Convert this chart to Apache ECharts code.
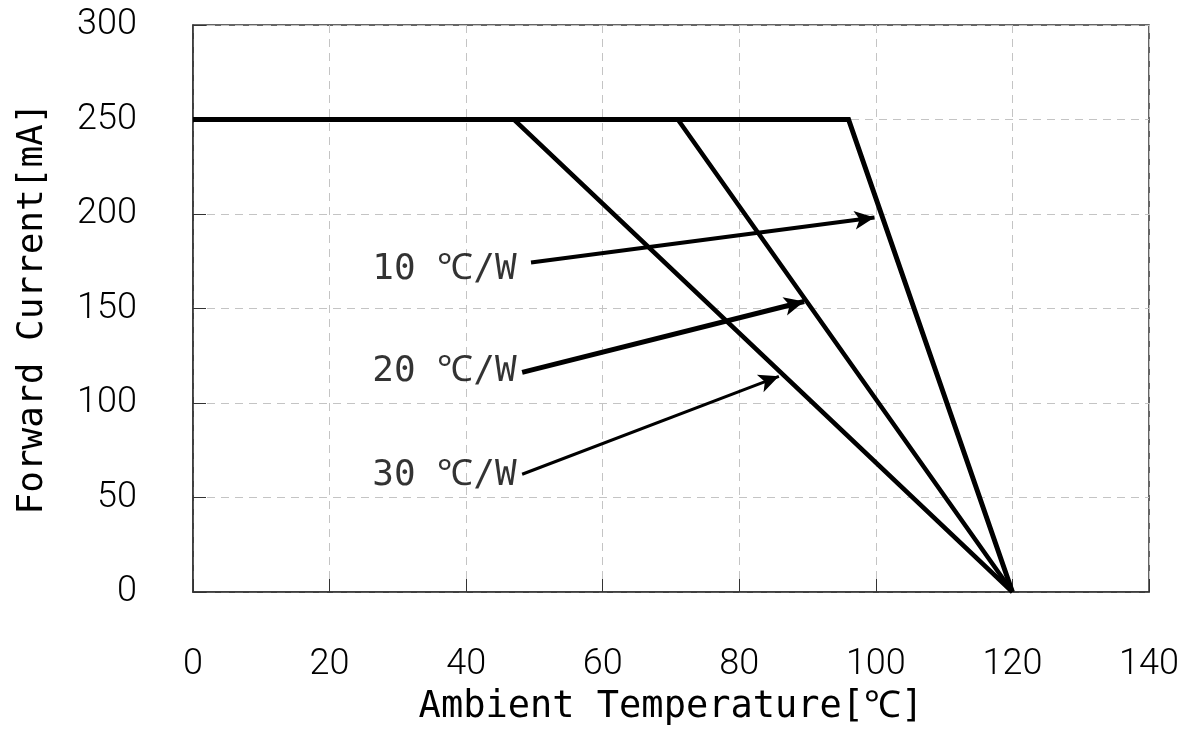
<!DOCTYPE html>
<html>
<head>
<meta charset="utf-8">
<script src="https://cdn.jsdelivr.net/npm/echarts@6/dist/echarts.min.js"></script>
<style>
  html, body { margin: 0; padding: 0; background: #fff; }
  #chart { width: 1184px; height: 731px; }
</style>
</head>
<body>
<div id="chart"></div>
<script>
// derating curves: [temperature, current]
var curve10 = [[0, 250], [96, 250], [120, 0]]
var curve20 = [[0, 250], [71, 250], [120, 0]]
var curve30 = [[0, 250], [47, 250], [120, 0]]

// annotation labels (right end of text) and arrows (from -> to)
var labelNames = ['10 ℃/W', '20 ℃/W', '30 ℃/W']
var labelPos = [[47.4, 170.6], [47.4, 116.7], [47.4, 61.8]]
var arrowFrom = [[49.5, 174.3], [48.2, 116.2], [48.2, 62.3]]
var arrowTo = [[99.8, 198.1], [89.5, 153.7], [85.8, 114.1]]
var arrowWidth = [4, 5, 3]

var xTicks = [0, 20, 40, 60, 80, 100, 120, 140]
var yTicks = [0, 50, 100, 150, 200, 250, 300]

var monoFont = 'DejaVu Sans Mono'
var tickFont = 'Roboto'

var chart = echarts.init(document.getElementById('chart'))

function curveSeries (data, w) {
  return {
    type: 'line',
    data: data,
    symbol: 'none',
    silent: true,
    lineStyle: { color: '#000', width: w, join: 'miter' },
    z: 5
  }
}

var arrowSeries = arrowFrom.map(function (p, i) {
  return {
    type: 'line',
    data: [],
    silent: true,
    markLine: {
      silent: true,
      animation: false,
      symbol: ['none', 'arrow'],
      symbolSize: [14, 20],
      label: { show: false },
      lineStyle: { color: '#000', width: arrowWidth[i], type: 'solid' },
      data: [[{ coord: p }, { coord: arrowTo[i] }]]
    }
  }
})

var option = {
  animation: false,
  backgroundColor: '#fff',
  grid: {
    left: 193,
    right: 35,
    top: 25,
    bottom: 138,
    show: true,
    borderColor: '#333',
    borderWidth: 1.5
  },
  xAxis: {
    type: 'value',
    min: 0,
    max: 140,
    interval: 20,
    name: 'Ambient Temperature[℃]',
    nameLocation: 'middle',
    nameGap: 97,
    nameTextStyle: { fontFamily: monoFont, fontSize: 37, color: '#000' },
    axisLine: { lineStyle: { color: '#333', width: 1.5 } },
    axisTick: { inside: true, length: 13, lineStyle: { color: '#333' } },
    axisLabel: {
      margin: 55,
      fontFamily: tickFont,
      fontWeight: 300,
      fontSize: 36,
      color: '#000',
      formatter: function (v) { return xTicks.indexOf(v) >= 0 ? String(v) : '' }
    },
    splitLine: { show: true, lineStyle: { color: '#c4c4c4', type: [8, 6], width: 1 } }
  },
  yAxis: {
    type: 'value',
    min: 0,
    max: 300,
    interval: 50,
    name: 'Forward Current[mA]',
    nameLocation: 'middle',
    nameGap: 142,
    nameRotate: 90,
    nameTextStyle: { fontFamily: monoFont, fontSize: 36, color: '#000' },
    axisLine: { show: true, lineStyle: { color: '#333', width: 1.5 } },
    axisTick: { show: true, inside: true, length: 13, lineStyle: { color: '#333' } },
    axisLabel: {
      margin: 56,
      padding: [6, 0, 0, 0],
      fontFamily: tickFont,
      fontWeight: 300,
      fontSize: 36,
      color: '#000',
      formatter: function (v) { return yTicks.indexOf(v) >= 0 ? String(v) : '' }
    },
    splitLine: { show: true, lineStyle: { color: '#c4c4c4', type: [8, 6], width: 1 } }
  },
  series: [
    curveSeries(curve30, 4.5),
    curveSeries(curve20, 4.5),
    curveSeries(curve10, 5),
    {
      type: 'scatter',
      silent: true,
      symbolSize: 0,
      data: labelPos.map(function (p, i) { return { value: p, name: labelNames[i] } }),
      label: {
        show: true,
        position: 'left',
        distance: 0,
        formatter: '{b}',
        fontFamily: monoFont,
        fontSize: 36,
        color: '#000'
      },
      z: 6
    }
  ].concat(arrowSeries)
}

chart.setOption(option)
</script>
</body>
</html>
